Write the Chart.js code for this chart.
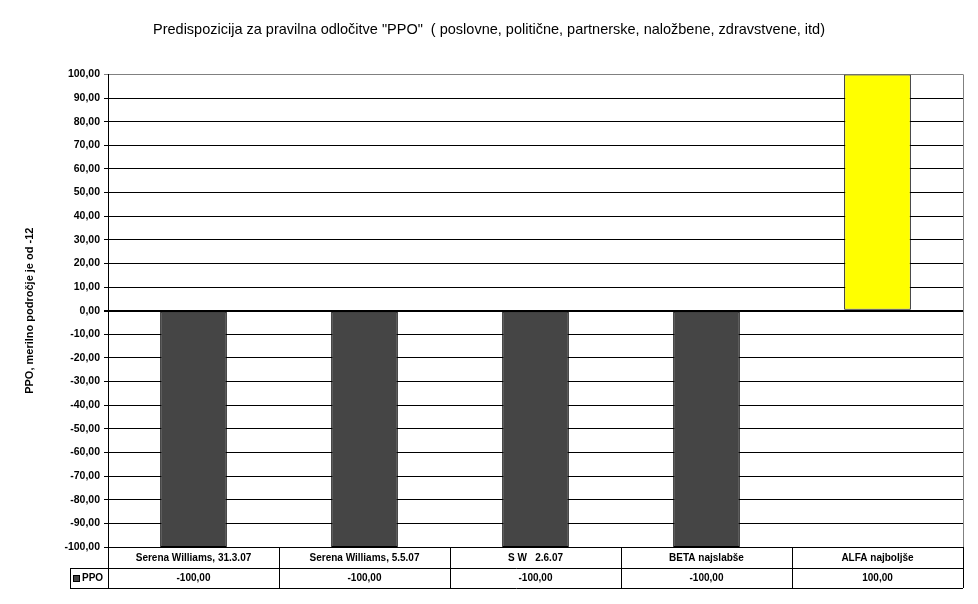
<!DOCTYPE html>
<html>
<head>
<meta charset="utf-8">
<script src="https://cdn.jsdelivr.net/npm/chart.js@4"></script>
<style>
  html, body { margin: 0; padding: 0; background: #fff; }
  #wrap { width: 978px; height: 604px; }
</style>
</head>
<body>
<div id="wrap"><canvas id="chartContainer"></canvas></div>
<script>
// podatki
var categories = ['Serena Williams, 31.3.07', 'Serena Williams, 5.5.07', 'S W   2.6.07', 'BETA najslabše', 'ALFA najboljše'];
var ppoValues = [-100, -100, -100, -100, 100];
var barColors = ['#454545', '#454545', '#454545', '#454545', '#ffff00'];
var seriesName = 'PPO';

function fmt(v) {
  return v.toFixed(2).replace('.', ',');
}

// tabela s podatki pod grafom
var dataTable = {
  id: 'dataTable',
  afterDraw: function (chart) {
    var c = chart.ctx, a = chart.chartArea, x = chart.scales.x;
    var r1 = a.bottom, r2 = a.bottom + 21, r3 = a.bottom + 41;
    var legendLeft = 70;
    var step = (a.right - a.left) / categories.length;
    c.save();
    c.strokeStyle = '#000';
    c.lineWidth = 1;
    c.beginPath();
    c.moveTo(legendLeft, r2 + 0.5); c.lineTo(a.right, r2 + 0.5);
    c.moveTo(legendLeft, r3 + 0.5); c.lineTo(a.right, r3 + 0.5);
    c.moveTo(legendLeft + 0.5, r2); c.lineTo(legendLeft + 0.5, r3);
    for (var i = 0; i <= categories.length; i++) {
      var px = Math.round(a.left + i * step) + 0.5;
      c.moveTo(px, r1); c.lineTo(px, r3);
    }
    c.stroke();
    // desni rob
    c.strokeStyle = '#808080';
    c.beginPath();
    c.moveTo(Math.round(a.right) + 0.5, a.top); c.lineTo(Math.round(a.right) + 0.5, r1);
    c.stroke();

    c.fillStyle = '#000';
    c.font = 'bold 10px Arial';
    c.textAlign = 'center';
    c.textBaseline = 'middle';
    categories.forEach(function (lab, i) {
      var cx = x.getPixelForValue(i);
      c.fillText(lab, cx, (r1 + r2) / 2 + 0.5);
      c.fillText(fmt(ppoValues[i]), cx, (r2 + r3) / 2 + 0.5);
    });
    // legenda
    c.fillStyle = '#454545';
    c.fillRect(73, r2 + 8, 6, 6);
    c.strokeStyle = '#000';
    c.strokeRect(73.5, r2 + 7.5, 6, 6);
    c.fillStyle = '#000';
    c.textAlign = 'left';
    c.fillText(seriesName, 82, (r2 + r3) / 2 + 0.5);
    c.restore();
  }
};

var ctx = document.getElementById('chartContainer').getContext('2d');
var chart = new Chart(ctx, {
  type: 'bar',
  data: {
    labels: categories,
    datasets: [{
      label: seriesName,
      data: ppoValues,
      backgroundColor: barColors,
      borderColor: '#000',
      borderWidth: 1,
      borderSkipped: false,
      categoryPercentage: 1,
      barPercentage: 0.39
    }]
  },
  options: {
    responsive: true,
    maintainAspectRatio: false,
    animation: false,
    layout: { padding: { left: 15, right: 15, top: 0, bottom: 0 } },
    plugins: {
      legend: { display: false },
      tooltip: { enabled: false },
      title: {
        display: true,
        text: 'Predispozicija za pravilna odločitve "PPO"  ( poslovne, politične, partnerske, naložbene, zdravstvene, itd)',
        color: '#000',
        font: { family: 'Arial', size: 14.5, weight: 'normal' },
        padding: { top: 21, bottom: 36 }
      }
    },
    scales: {
      x: {
        display: true,
        grid: { display: false },
        border: { display: false },
        ticks: { display: false },
        afterFit: function (s) { s.height = 57; }
      },
      y: {
        min: -100,
        max: 100,
        afterFit: function (s) { s.width = 93; },
        ticks: {
          stepSize: 10,
          autoSkip: false,
          color: '#000',
          padding: 4,
          font: { family: 'Arial', size: 10.5, weight: 'bold' },
          callback: function (v) { return fmt(v); }
        },
        grid: {
          color: function (c) { return c.tick && c.tick.value === 100 ? '#808080' : '#000'; },
          lineWidth: function (c) { return c.tick && c.tick.value === 0 ? 2 : 1; },
          tickLength: 4
        },
        border: { color: '#000', width: 1 },
        title: {
          display: true,
          text: 'PPO, merilno področje je od -12',
          color: '#000',
          font: { family: 'Arial', size: 11, weight: 'bold' },
          padding: { top: 8, bottom: 0 }
        }
      }
    }
  },
  plugins: [dataTable]
});
</script>
</body>
</html>
